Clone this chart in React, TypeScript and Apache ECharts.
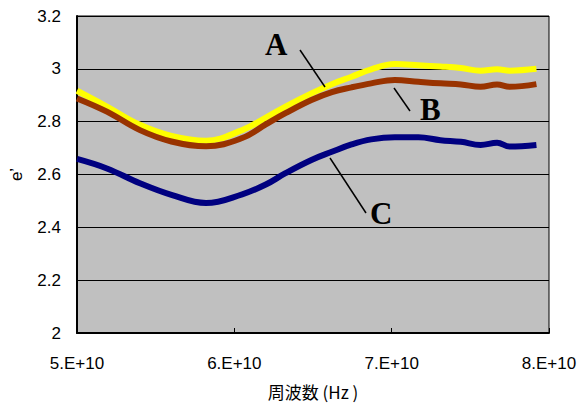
import React, { useEffect, useRef } from "react";
import * as echarts from "echarts";

// frequency in units of 1E10 Hz
const freq = [5.0, 5.19, 5.4, 5.6, 5.82, 6.05, 6.2, 6.325, 6.49, 6.62, 6.745, 6.87, 7.02, 7.17, 7.31, 7.44, 7.565, 7.67, 7.75, 7.92];
const seriesA = [2.917, 2.857, 2.788, 2.746, 2.728, 2.768, 2.815, 2.857, 2.907, 2.942, 2.97, 2.998, 3.018, 3.014, 3.009, 3.003, 2.993, 2.998, 2.993, 3.0];
const seriesB = [2.888, 2.838, 2.768, 2.725, 2.707, 2.738, 2.79, 2.832, 2.882, 2.912, 2.93, 2.945, 2.958, 2.951, 2.945, 2.941, 2.932, 2.941, 2.932, 2.942];
const seriesC = [2.659, 2.623, 2.567, 2.523, 2.492, 2.525, 2.562, 2.605, 2.655, 2.686, 2.714, 2.733, 2.741, 2.741, 2.73, 2.724, 2.712, 2.72, 2.706, 2.712];
const yTicks = { min: 2, max: 3.2, interval: 0.2 };
const xTicks = { min: 5, max: 8, interval: 1 };

const pairs = (ys: number[]) => freq.map((f, i) => [f, ys[i]]);

export default function App() {
  const ref = useRef<HTMLDivElement>(null);
  useEffect(() => {
    const chart = echarts.init(ref.current!, undefined, { renderer: "svg" });
    const labelFont = { fontFamily: "Liberation Sans, Arial, sans-serif", fontSize: 17, color: "#000" };
    const annFont = { fontFamily: "Liberation Serif, Times New Roman, serif", fontSize: 31, fontWeight: "bold" as const, fill: "#000" };
    chart.setOption({
      animation: false,
      backgroundColor: "#fff",
      grid: {
        left: 73, right: 31, top: 16, bottom: 73,
        show: true, backgroundColor: "#c0c0c0", borderColor: "#000", borderWidth: 1,
      },
      xAxis: {
        type: "value",
        min: xTicks.min, max: xTicks.max, interval: xTicks.interval,
        name: "周波数 (Hz )",
        nameLocation: "middle",
        nameGap: 50,
        nameTextStyle: { ...labelFont, fontFamily: "Noto Sans CJK JP, sans-serif", fontSize: 17 },
        axisLine: { show: true, lineStyle: { color: "#000", width: 2 } },
        axisTick: { show: true, inside: true, length: 5, lineStyle: { color: "#000" } },
        axisLabel: { ...labelFont, margin: 22, formatter: (v: number) => v + ".E+10" },
        splitLine: { show: false },
      },
      yAxis: {
        type: "value",
        min: yTicks.min, max: yTicks.max, interval: yTicks.interval,
        name: "e’",
        nameLocation: "middle",
        nameGap: 52,
        nameRotate: 90,
        nameTextStyle: { ...labelFont, fontSize: 17 },
        axisLine: { show: true, lineStyle: { color: "#000", width: 2 } },
        axisTick: { show: true, inside: true, length: 6, lineStyle: { color: "#000" } },
        axisLabel: { ...labelFont, margin: 16, padding: [10, 0, 0, 0], formatter: (v: number) => String(Math.round(v * 10) / 10) },
        splitLine: { show: true, lineStyle: { color: "#000", width: 1 } },
      },
      series: [
        { name: "A", type: "line", data: pairs(seriesA), smooth: 0.4, showSymbol: false, lineStyle: { color: "#ffff00", width: 6 }, z: 2 },
        { name: "B", type: "line", data: pairs(seriesB), smooth: 0.4, showSymbol: false, lineStyle: { color: "#993300", width: 6 }, z: 3 },
        { name: "C", type: "line", data: pairs(seriesC), smooth: 0.4, showSymbol: false, lineStyle: { color: "#000080", width: 6 }, z: 3 },
      ],
      graphic: [
        { type: "text", x: 265, y: 29, style: { text: "A", ...annFont } },
        { type: "line", shape: { x1: 300, y1: 50, x2: 325, y2: 87 }, style: { stroke: "#000", lineWidth: 1.5 }, z: 10 },
        { type: "text", x: 420, y: 94, style: { text: "B", ...annFont } },
        { type: "line", shape: { x1: 394, y1: 88, x2: 410, y2: 111 }, style: { stroke: "#000", lineWidth: 1.5 }, z: 10 },
        { type: "text", x: 370, y: 198, style: { text: "C", ...annFont } },
        { type: "line", shape: { x1: 330, y1: 158, x2: 366, y2: 213 }, style: { stroke: "#000", lineWidth: 1.5 }, z: 10 },
      ],
    });
    return () => chart.dispose();
  }, []);
  return <div ref={ref} style={{ position: "absolute", left: 0, top: 0, width: 580, height: 406 }} />;
}
